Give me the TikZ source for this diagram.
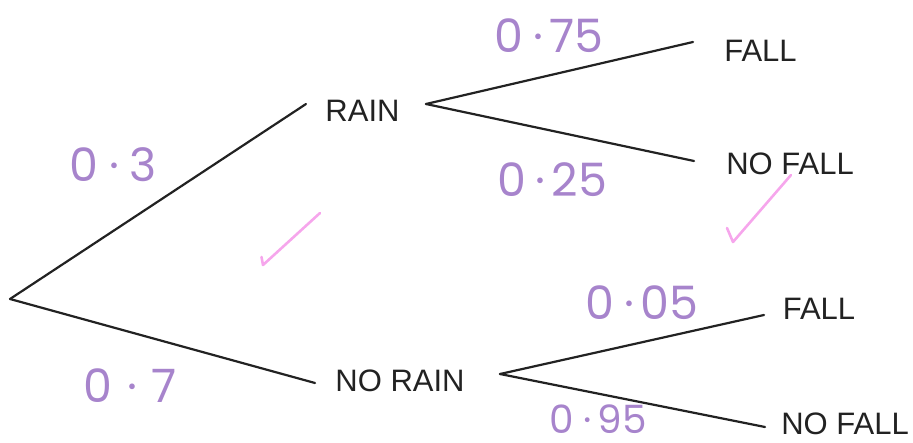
\documentclass[tikz,border=0pt]{standalone}
\usepackage{fontspec}
\setmainfont{Liberation Sans}
\newfontfamily\handfont{Poppins}
\definecolor{branchink}{HTML}{222222}
\definecolor{penpurple}{HTML}{A784CC}
\definecolor{tickpink}{HTML}{F6A6EC}
\begin{document}
\begin{tikzpicture}[x=1pt,y=-1pt,
  branch/.style={draw=branchink,line width=2.2pt,line cap=round},
  outcome/.style={inner sep=0pt,font=\fontsize{31}{36}\selectfont,text=branchink},
  prob/.style={inner sep=0pt,font=\handfont\fontsize{46}{50}\selectfont,text=penpurple},
  tick/.style={draw=tickpink,line width=2.6pt,line cap=round,line join=round}]
\useasboundingbox (0,0) rectangle (913,443);

% outcome labels
\node[outcome] (rain)    at (362.5,110.5) {RAIN};
\node[outcome] (norain)  at (400,380.5) {NO RAIN};
\node[outcome] (fall1)   at (760.5,50.5) {FALL};
\node[outcome] (nofall1) at (790,164) {NO FALL};
\node[outcome] (fall2)   at (819,309) {FALL};
\node[outcome] (nofall2) at (845,424) {NO FALL};

% branch points
\coordinate (root)  at (10,299);
\coordinate (rainL) at (306,104);
\coordinate (norainL) at (315,383);
\coordinate (rainR) at (426,104);
\coordinate (norainR) at (500,374);
\coordinate (fall1L) at (693,42);
\coordinate (nofall1L) at (694,161);
\coordinate (fall2L) at (764,315);
\coordinate (nofall2L) at (765,427);

% branches
\draw[branch] (root) -- (rainL);
\draw[branch] (root) -- (norainL);
\draw[branch] (rainR) -- (fall1L);
\draw[branch] (rainR) -- (nofall1L);
\draw[branch] (norainR) -- (fall2L);
\draw[branch] (norainR) -- (nofall2L);

% probabilities
\node[prob] (p3)  at (113,165) {0\hspace{12pt}·\hspace{10pt}3};
\node[prob] (p7)  at (130,386) {0\hspace{16pt}·\hspace{14pt}7};
\node[prob] (p75) at (549,36) {0\hspace{10pt}·\hspace{6pt}75};
\node[prob] (p25) at (552,180) {0\hspace{10pt}·\hspace{6pt}25};
\node[prob] (p05) at (642,303) {0\hspace{10pt}·\hspace{6pt}05};
\node[prob,font=\handfont\fontsize{39}{44}\selectfont] (p95) at (598,419) {0\hspace{10pt}·\hspace{6pt}95};

% check marks
\draw[tick] (261.5,257) -- (263,265) -- (320,213);
\draw[tick] (727,228) -- (733,242) -- (791,175);
\end{tikzpicture}
\end{document}
